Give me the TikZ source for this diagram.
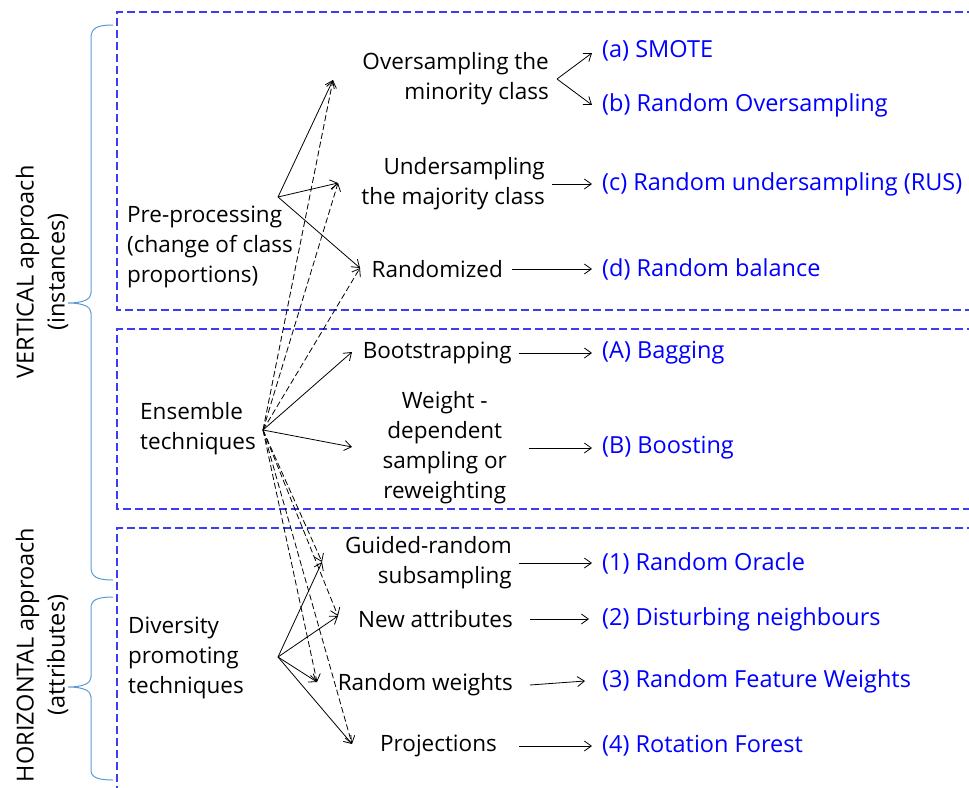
\documentclass[tikz,border=0pt]{standalone}
\usepackage{fontspec}
\setmainfont{Open Sans}
\usetikzlibrary{arrows.meta}

\definecolor{boxblue}{RGB}{60,60,245}
\definecolor{braceblue}{RGB}{91,155,213}

\begin{document}
\begin{tikzpicture}[x=1pt,y=-1pt,
  txt/.style={inner sep=0pt,font=\fontsize{22.5}{30}\selectfont},
  method/.style={txt,text=blue,anchor=west,font=\fontsize{23.5}{30}\selectfont},
  arr/.style={line width=0.8pt,-{Straight Barb[length=7pt,width=10pt]}},
  darr/.style={arr,dash pattern=on 6pt off 3pt},
  boxline/.style={boxblue,line width=1.3pt,dash pattern=on 8pt off 4pt},
  bracket/.style={braceblue,line width=1pt}]

  \useasboundingbox (0,0) rectangle (969,787);

  % dashed boxes
  \draw[boxline] (975,12) -- (117,12) -- (117,310) -- (975,310);
  \draw[boxline] (975,329) -- (117,329) -- (117,509) -- (975,509);
  \draw[boxline] (975,528) -- (117,528) -- (117,790);

  % braces
  \draw[bracket] (113,25) .. controls (97,25) and (91,28) .. (91,38) -- (91,293)
    .. controls (91,299) and (84,303) .. (68,303) .. controls (84,303) and (91,307) .. (91,313)
    -- (91,567) .. controls (91,577) and (97,580) .. (113,580);
  \draw[bracket] (113,597) .. controls (97,597) and (91,600) .. (91,608) -- (91,677)
    .. controls (91,683) and (84,687) .. (68,687) .. controls (84,687) and (91,691) .. (91,697)
    -- (91,770) .. controls (91,777) and (97,780) .. (113,780);

  % side labels
  \node[txt,rotate=90,align=center,font=\fontsize{23.5}{31}\selectfont] (vert) at (42,272) {VERTICAL approach\\(instances)};
  \node[txt,rotate=90,align=center,font=\fontsize{23.5}{31}\selectfont] (horiz) at (42,655) {HORIZONTAL approach\\(attributes)};

  % techniques
  \node[txt,anchor=west,align=left] (prep) at (127,247) {Pre-processing\\(change of class\\proportions)};
  \node[txt,anchor=west,align=left] (ens) at (140,429) {Ensemble\\techniques};
  \node[txt,anchor=west,align=left] (div) at (128,658) {Diversity\\promoting\\techniques};

  % steps
  \node[txt,anchor=east,align=right] (over) at (549,79) {Oversampling the\\minority class};
  \node[txt,anchor=east,align=right] (under) at (545,184) {Undersampling\\the majority class};
  \node[txt,anchor=east] (randz) at (503,269) {Randomized};
  \node[txt,anchor=east] (boot) at (512,353) {Bootstrapping};
  \node[txt,anchor=east,align=center] (weight) at (507,448) {Weight -\\dependent\\sampling or\\reweighting};
  \node[txt,anchor=east,align=right] (guided) at (512,563) {Guided-random\\subsampling};
  \node[txt,anchor=east] (newatt) at (513,619) {New attributes};
  \node[txt,anchor=east] (rweight) at (513,685) {Random weights};
  \node[txt,anchor=east] (proj) at (497,746) {Projections};

  % methods
  \node[method] (smote) at (602,51) {(a) SMOTE};
  \node[method] (rover) at (602,105) {(b) Random Oversampling};
  \node[method] (rus) at (602,184) {(c) Random undersampling (RUS)};
  \node[method] (rbal) at (602,269) {(d) Random balance};
  \node[method] (bag) at (602,353) {(A) Bagging};
  \node[method] (boost) at (602,448) {(B) Boosting};
  \node[method] (roracle) at (602,563) {(1) Random Oracle};
  \node[method] (disturb) at (602,619) {(2) Disturbing neighbours};
  \node[method] (rfw) at (602,681) {(3) Random Feature Weights};
  \node[method] (rotf) at (602,746) {(4) Rotation Forest};

  % fan points
  \coordinate (prep-out) at (278,197);
  \coordinate (ens-out) at (263,430);
  \coordinate (div-out) at (278,657);
  \coordinate (over-in) at (333,80);
  \coordinate (under-in) at (338,183);
  \coordinate (randz-in) at (360,268);
  \coordinate (boot-in) at (352,352);
  \coordinate (weight-in) at (352,447);
  \coordinate (guided-in) at (322,562);
  \coordinate (newatt-in) at (338,616);
  \coordinate (rweight-in) at (317,682);
  \coordinate (proj-in) at (352,744);

  % fans
  \foreach \t in {over,under,randz}
    \draw[arr] (prep-out) -- (\t-in);
  \foreach \t in {boot,weight}
    \draw[arr] (ens-out) -- (\t-in);
  \foreach \t in {over,under,randz,guided,newatt,rweight,proj}
    \draw[darr] (ens-out) -- (\t-in);
  \foreach \t in {guided,newatt,rweight,proj}
    \draw[arr] (div-out) -- (\t-in);

  % step to method arrows
  \draw[arr] ([xshift=8pt]over.east) -- ([xshift=-10pt,yshift=-2pt]smote.west);
  \draw[arr] ([xshift=8pt]over.east) -- ([xshift=-10pt]rover.west);
  \foreach \a/\b/\s/\e in {under/rus/7/10, randz/rbal/9/10, boot/bag/7/10, weight/boost/22/10,
      guided/roracle/7/10, newatt/disturb/17/13, rweight/rfw/17/17, proj/rotf/22/10}
    \draw[arr] ([xshift=\s pt]\a.east) -- ([xshift=-\e pt]\b.west);

\end{tikzpicture}
\end{document}
